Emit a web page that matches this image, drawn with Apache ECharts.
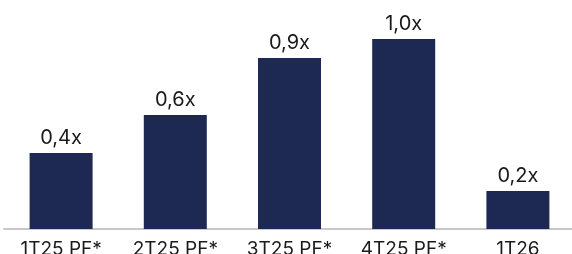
<!DOCTYPE html>
<html><head><meta charset="utf-8">
<script src="https://cdn.jsdelivr.net/npm/echarts@6/dist/echarts.min.js"></script>
<style>html,body{margin:0;padding:0;background:#fff}#c{width:572px;height:254px}</style>
</head><body><div id="c"></div>
<script>
var categories = ['1T25 PF*', '2T25 PF*', '3T25 PF*', '4T25 PF*', '1T26'];
var values = [0.4, 0.6, 0.9, 1.0, 0.2];
var labels = ['0,4x', '0,6x', '0,9x', '1,0x', '0,2x'];

var chart = echarts.init(document.getElementById('c'));
chart.setOption({
  animation: false,
  grid: { left: 4, right: -3, top: 39, bottom: 25, containLabel: false, outerBoundsMode: 'none' },
  xAxis: {
    type: 'category', data: categories,
    axisLine: { lineStyle: { color: '#c8c8c8', width: 2 } },
    axisTick: { show: false },
    axisLabel: { color: '#1a1a1a', fontFamily: 'Inter', fontSize: 19, margin: 11, interval: 0 }
  },
  yAxis: { type: 'value', min: 0, max: 1, show: false, splitLine: { show: false } },
  series: [{
    type: 'bar', data: values, barWidth: 63,
    itemStyle: { color: '#1e2953' },
    label: {
      show: true, position: 'top', distance: 5,
      color: '#1a1a1a', fontFamily: 'Inter', fontSize: 20,
      formatter: function (p) { return labels[p.dataIndex]; }
    }
  }]
});
</script></body></html>
